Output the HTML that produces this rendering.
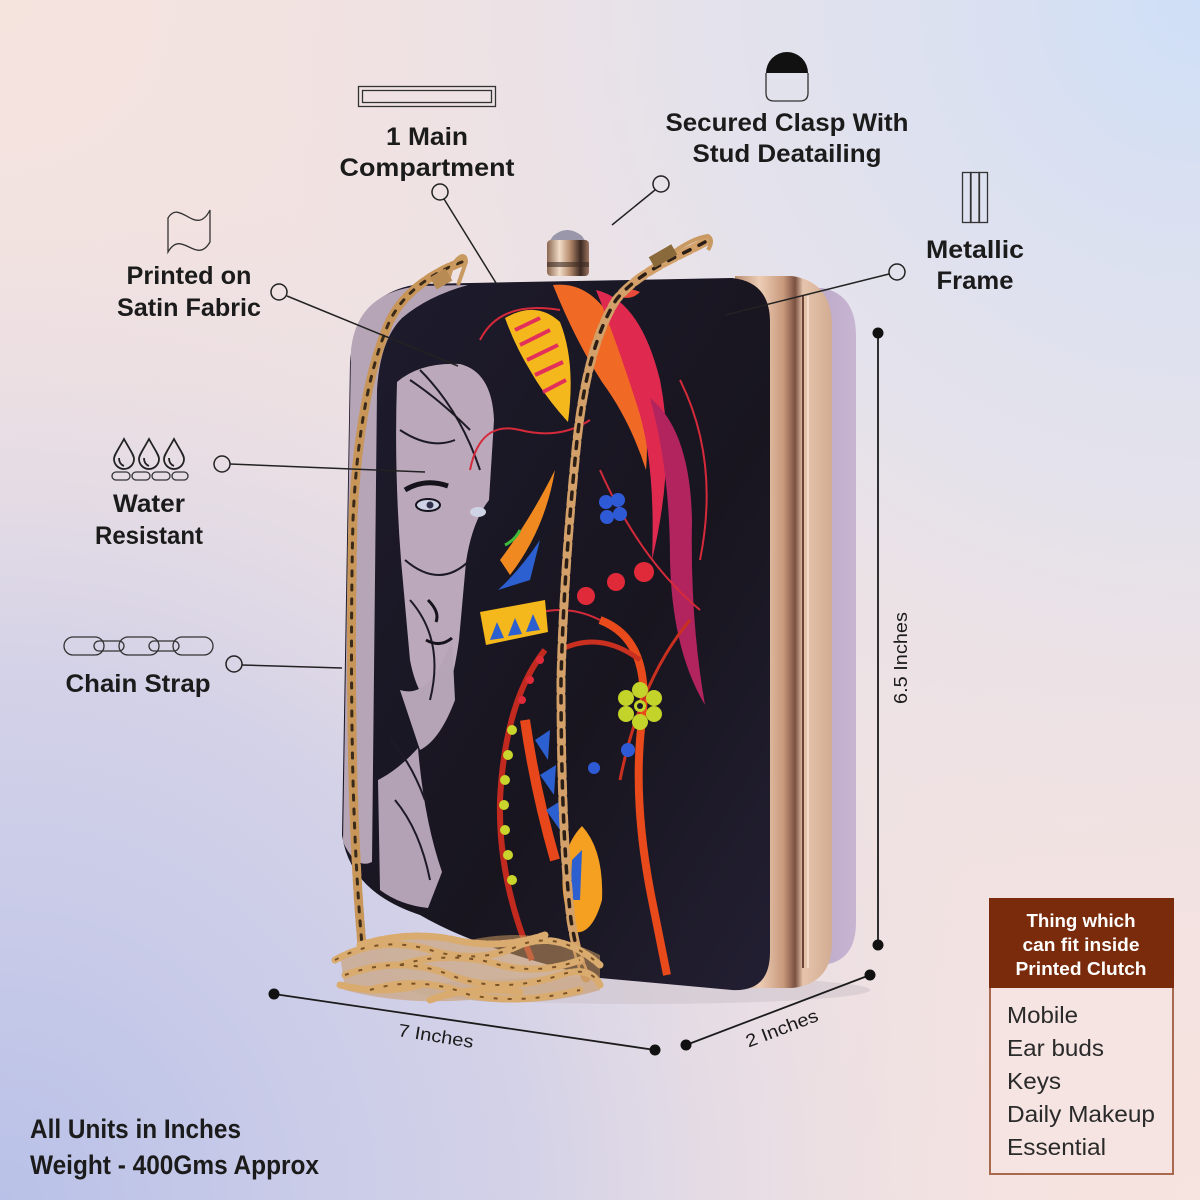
<!DOCTYPE html>
<html><head><meta charset="utf-8"><style>
html,body{margin:0;padding:0;width:1200px;height:1200px;overflow:hidden;background:#efe2e3}
svg{display:block}
.t{font-family:"Liberation Sans",sans-serif;font-weight:bold;fill:#1b1b1b;font-size:25px}
.d{font-family:"Liberation Sans",sans-serif;fill:#1b1b1b;font-size:18px}
</style></head><body>
<svg width="1200" height="1200" viewBox="0 0 1200 1200" xmlns="http://www.w3.org/2000/svg">
<defs>
<radialGradient id="tr" cx="1200" cy="0" r="950" gradientUnits="userSpaceOnUse">
<stop offset="0" stop-color="#cfdff7"/><stop offset="0.55" stop-color="#dfe2f0" stop-opacity="0.6"/><stop offset="1" stop-color="#efe2e3" stop-opacity="0"/></radialGradient>
<radialGradient id="bl" cx="0" cy="1200" r="1050" gradientUnits="userSpaceOnUse">
<stop offset="0" stop-color="#b9c1e8"/><stop offset="0.5" stop-color="#cacce9" stop-opacity="0.75"/><stop offset="1" stop-color="#efe2e3" stop-opacity="0"/></radialGradient>
<radialGradient id="tl" cx="0" cy="0" r="600" gradientUnits="userSpaceOnUse">
<stop offset="0" stop-color="#f5e3de"/><stop offset="1" stop-color="#f5e3de" stop-opacity="0"/></radialGradient>
<radialGradient id="br" cx="1200" cy="1200" r="600" gradientUnits="userSpaceOnUse">
<stop offset="0" stop-color="#f7e3df"/><stop offset="1" stop-color="#f7e3df" stop-opacity="0"/></radialGradient>
<linearGradient id="gold" x1="0" x2="1" y1="0" y2="0">
<stop offset="0" stop-color="#b98d70"/><stop offset="0.25" stop-color="#edcdb6"/><stop offset="0.5" stop-color="#c99a7c"/><stop offset="0.62" stop-color="#7a5040"/><stop offset="0.7" stop-color="#e6c4ac"/><stop offset="1" stop-color="#d2ac92"/></linearGradient>
<linearGradient id="side" x1="0" x2="1">
<stop offset="0" stop-color="#b19fc2"/><stop offset="1" stop-color="#c7b5d2"/></linearGradient>
<linearGradient id="face" x1="0" y1="0" x2="1" y2="1">
<stop offset="0" stop-color="#1e1b2e"/><stop offset="0.6" stop-color="#18151f"/><stop offset="1" stop-color="#231f33"/></linearGradient>
<linearGradient id="cyl" x1="0" x2="1">
<stop offset="0" stop-color="#8a6650"/><stop offset="0.3" stop-color="#f1dcc8"/><stop offset="0.55" stop-color="#b58a6c"/><stop offset="0.8" stop-color="#3d2a22"/><stop offset="1" stop-color="#9c7560"/></linearGradient>
</defs>

<rect width="1200" height="1200" fill="#efe2e3"/>
<rect width="1200" height="1200" fill="url(#tl)"/>
<rect width="1200" height="1200" fill="url(#br)"/>
<rect width="1200" height="1200" fill="url(#tr)"/>
<rect width="1200" height="1200" fill="url(#bl)"/>

<ellipse cx="640" cy="990" rx="230" ry="14" fill="#c9c0c8" opacity="0.5"/>

<path d="M780,288 L822,288 Q856,294 856,336 L856,922 Q856,962 822,965 L780,965 Z" fill="url(#side)"/>
<path d="M735,276 L792,276 Q832,282 832,326 L832,942 Q832,984 792,988 L735,988 Z" fill="url(#gold)"/>
<line x1="803" y1="296" x2="803" y2="968" stroke="#6b4434" stroke-width="2"/>
<line x1="808" y1="296" x2="808" y2="968" stroke="#f4dccb" stroke-width="2"/>

<path d="M420,284 L732,278 Q770,282 770,322 L770,952 Q770,992 732,990 L600,978 Q480,950 420,915 Q350,892 342,835 L350,362 Q356,292 420,284 Z" fill="url(#face)"/>

<path d="M351,350 Q357,292 420,286 L468,285 Q428,296 402,318 Q380,340 377,390 L372,862 Q356,870 343,842 Z" fill="#b6a4b7"/>
<path d="M397,382 Q420,362 460,364 Q492,372 494,420 L489,500 Q472,522 466,562 L459,640 Q452,690 440,712 Q418,702 410,660 L401,560 Q394,470 397,382 Z" fill="#bba9bb"/>
<path d="M378,780 Q398,770 418,748 Q424,820 442,872 L428,908 Q400,905 380,890 Z" fill="#b3a1b5"/>
<path d="M400,690 Q430,700 452,640 L455,700 Q440,740 420,750 Z" fill="#b5a3b6"/>
<g fill="none" stroke="#1d1a26" stroke-width="2">
<path d="M410,380 Q440,400 470,430"/>
<path d="M420,370 Q460,410 480,470"/>
<path d="M400,430 Q430,450 455,440"/>
<path d="M405,560 Q440,590 470,560"/>
<path d="M410,600 Q445,640 430,700"/>
<path d="M395,800 Q420,830 430,880"/>
<path d="M390,740 Q410,760 425,800"/>
</g>
<path d="M405,490 Q425,478 448,486" stroke="#16131c" stroke-width="5" fill="none"/>
<ellipse cx="428" cy="505" rx="12" ry="6" fill="#cfd3e6" stroke="#16131c" stroke-width="2"/>
<circle cx="430" cy="505" r="3.5" fill="#30304a"/>
<ellipse cx="478" cy="512" rx="8" ry="5" fill="#cfd3e6"/>
<path d="M428,600 Q440,612 436,622" stroke="#16131c" stroke-width="3" fill="none"/>
<path d="M426,640 Q440,648 452,638" stroke="#16131c" stroke-width="3" fill="none"/>

<path d="M553,285 Q595,280 620,335 Q652,405 646,470 Q630,420 602,382 Q575,340 553,285 Z" fill="#f06a25"/>
<path d="M596,290 Q640,300 660,380 Q676,460 652,560 Q656,460 636,402 Q616,340 596,290 Z" fill="#e0294f"/>
<path d="M505,318 Q536,300 560,322 Q576,362 568,422 Q546,398 531,372 Q515,346 505,318 Z" fill="#f5b81c"/>
<g stroke="#e2305a" stroke-width="4">
<line x1="515" y1="330" x2="540" y2="318"/><line x1="520" y1="345" x2="550" y2="330"/><line x1="527" y1="360" x2="558" y2="345"/><line x1="535" y1="375" x2="563" y2="362"/><line x1="543" y1="392" x2="566" y2="380"/>
</g>
<path d="M650,398 Q690,430 692,520 Q690,620 705,705 Q672,650 670,560 Q670,470 650,398 Z" fill="#b2245e"/>
<path d="M615,295 Q625,285 640,292 Q630,302 615,295 Z" fill="#e94a3a"/>
<g fill="none" stroke="#d42a3a" stroke-width="2">
<path d="M480,340 Q500,300 560,310"/>
<path d="M470,470 Q480,420 520,430 Q560,440 590,420"/>
<path d="M600,470 Q640,560 700,610"/>
<path d="M680,380 Q720,460 700,560"/>
<path d="M600,620 Q560,600 520,620"/>
</g>
<path d="M600,620 Q652,640 642,720 Q632,800 652,900 Q662,950 667,975" fill="none" stroke="#e84a1c" stroke-width="8"/>
<path d="M560,650 Q600,630 640,660" fill="none" stroke="#c93020" stroke-width="5"/>
<path d="M545,650 Q505,700 500,800 Q498,880 532,960" fill="none" stroke="#c22a20" stroke-width="6"/>
<path d="M690,620 Q640,680 620,780" fill="none" stroke="#c93020" stroke-width="3"/>
<path d="M480,612 L545,600 L548,632 L486,645 Z" fill="#f5b81c"/>
<g fill="#2c5fd0"><path d="M490,640 L497,622 L504,638 Z"/><path d="M508,636 L515,618 L522,634 Z"/><path d="M526,632 L533,614 L540,630 Z"/></g>
<path d="M500,560 Q530,520 555,470 Q545,530 510,575 Z" fill="#f08a20"/>
<path d="M498,590 Q520,570 540,540 L530,580 Z" fill="#2c5fd0"/>
<path d="M505,545 Q515,540 520,530" stroke="#3dbb3d" stroke-width="3"/>
<g fill="#e02a3a"><circle cx="586" cy="596" r="9"/><circle cx="616" cy="582" r="9"/><circle cx="644" cy="572" r="10"/><circle cx="540" cy="660" r="4"/><circle cx="530" cy="680" r="4"/><circle cx="522" cy="700" r="4"/></g>
<g fill="#c9d52c"><circle cx="512" cy="730" r="5"/><circle cx="508" cy="755" r="5"/><circle cx="505" cy="780" r="5"/><circle cx="504" cy="805" r="5"/><circle cx="505" cy="830" r="5"/><circle cx="508" cy="855" r="5"/><circle cx="512" cy="880" r="5"/></g>
<path d="M525,720 Q535,790 555,860" fill="none" stroke="#e8471c" stroke-width="10"/>
<g fill="#2c5fd0"><path d="M535,740 L550,730 L548,760 Z"/><path d="M540,775 L556,765 L554,795 Z"/><path d="M546,810 L562,800 L560,830 Z"/></g>
<path d="M582,826 Q604,850 602,900 Q592,935 575,932 Q558,900 564,860 Q570,838 582,826 Z" fill="#f5a020"/>
<path d="M572,860 L582,850 L580,900 L570,900 Z" fill="#2c5fd0"/>
<g fill="#2f5ad6"><circle cx="606" cy="502" r="7"/><circle cx="618" cy="500" r="7"/><circle cx="620" cy="514" r="7"/><circle cx="607" cy="517" r="7"/></g>
<g fill="#c3d32a"><circle cx="640" cy="690" r="8"/><circle cx="654" cy="698" r="8"/><circle cx="654" cy="714" r="8"/><circle cx="640" cy="722" r="8"/><circle cx="626" cy="714" r="8"/><circle cx="626" cy="698" r="8"/><circle cx="640" cy="706" r="6"/></g>
<circle cx="640" cy="706" r="3" fill="#1b1828"/>
<circle cx="628" cy="750" r="7" fill="#2f5ad6"/><circle cx="594" cy="768" r="6" fill="#2f5ad6"/>

<!-- clasp -->
<path d="M553,236 Q567,224 582,236 L586,242 L549,242 Z" fill="#9b97ab"/>
<rect x="547" y="240" width="42" height="36" rx="4" fill="url(#cyl)"/>
<rect x="547" y="262" width="42" height="5" fill="#3b2a22" opacity="0.6"/>

<!-- chains -->
<g fill="none" stroke-linecap="round">
<path d="M462,262 C440,270 400,290 386,330 C366,380 356,450 353,520 C351,600 351,700 353,780 C355,850 358,900 362,945" stroke="#c89658" stroke-width="9" stroke-dasharray="11 3"/>
<path d="M462,262 C440,270 400,290 386,330 C366,380 356,450 353,520 C351,600 351,700 353,780 C355,850 358,900 362,945" stroke="#3a2a1a" stroke-width="3" stroke-dasharray="5 9"/>
<path d="M705,242 C680,256 640,270 616,300 C591,340 581,400 576,450 C569,520 563,600 561,680 C561,760 563,850 571,920 C576,950 581,965 586,978" stroke="#d2a068" stroke-width="9" stroke-dasharray="13 4"/>
<path d="M705,242 C680,256 640,270 616,300 C591,340 581,400 576,450 C569,520 563,600 561,680 C561,760 563,850 571,920 C576,950 581,965 586,978" stroke="#2a1e16" stroke-width="3.5" stroke-dasharray="7 10"/>
</g>
<path d="M448,282 Q452,260 462,256 Q466,256 466,262 L458,285" fill="none" stroke="#c89a62" stroke-width="4"/>
<rect x="432" y="272" width="18" height="14" fill="#b88a54" transform="rotate(-30 441 279)"/>
<path d="M660,262 Q690,238 708,236 Q714,240 708,250" fill="none" stroke="#c89a62" stroke-width="4"/>
<rect x="650" y="250" width="26" height="12" fill="#8a6a3a" transform="rotate(-30 663 256)"/>

<!-- chain pile -->
<path d="M340,955 Q400,925 470,940 Q540,925 600,955 L600,990 Q540,1008 470,1000 Q400,1005 345,990 Z" fill="#c9985e" opacity="0.55"/>
<g fill="none" stroke="#d9ab6e" stroke-width="7" stroke-dasharray="10 3" stroke-linecap="round">
<path d="M335,960 Q380,935 430,950 Q480,965 520,945 Q560,930 600,965"/>
<path d="M345,975 Q400,955 450,975 Q500,995 560,975 Q590,965 600,985"/>
<path d="M370,990 Q420,975 470,995 Q520,1005 580,990"/>
<path d="M360,945 Q410,930 455,940 Q500,950 545,935"/>
<path d="M340,985 Q380,995 420,985"/>
<path d="M400,965 Q450,950 500,965 Q540,975 580,960"/>
<path d="M430,1000 Q470,985 520,992"/>
</g>
<g fill="none" stroke="#7a5228" stroke-width="2" stroke-dasharray="4 10">
<path d="M335,960 Q380,935 430,950 Q480,965 520,945 Q560,930 600,965"/>
<path d="M345,975 Q400,955 450,975 Q500,995 560,975 Q590,965 600,985"/>
<path d="M370,990 Q420,975 470,995 Q520,1005 580,990"/>
<path d="M400,965 Q450,950 500,965 Q540,975 580,960"/>
</g>

<!-- callouts -->
<g stroke="#222" stroke-width="1.5" fill="none">
<circle cx="440" cy="192" r="8"/><line x1="444" y1="199" x2="496" y2="283"/>
<circle cx="661" cy="184" r="8"/><line x1="655" y1="190" x2="612" y2="225"/>
<circle cx="897" cy="272" r="8"/><line x1="889" y1="274" x2="725" y2="315"/>
<circle cx="279" cy="292" r="8"/><line x1="287" y1="296" x2="458" y2="366"/>
<circle cx="222" cy="464" r="8"/><line x1="230" y1="464" x2="425" y2="472"/>
<circle cx="234" cy="664" r="8"/><line x1="242" y1="665" x2="342" y2="668"/>
</g>

<g stroke="#1b1b1b" stroke-width="1.8">
<line x1="878" y1="333" x2="878" y2="945"/>
<line x1="274" y1="994" x2="655" y2="1050"/>
<line x1="686" y1="1045" x2="870" y2="975"/>
</g>
<g fill="#111"><circle cx="878" cy="333" r="5.5"/><circle cx="878" cy="945" r="5.5"/><circle cx="274" cy="994" r="5.5"/><circle cx="655" cy="1050" r="5.5"/><circle cx="686" cy="1045" r="5.5"/><circle cx="870" cy="975" r="5.5"/></g>
<text class="d" transform="translate(907,658) rotate(-90)" text-anchor="middle" textLength="92" lengthAdjust="spacingAndGlyphs">6.5 Inches</text>
<text class="d" transform="translate(435,1042) rotate(9)" text-anchor="middle" textLength="76" lengthAdjust="spacingAndGlyphs">7 Inches</text>
<text class="d" transform="translate(784,1034) rotate(-21)" text-anchor="middle" textLength="76" lengthAdjust="spacingAndGlyphs">2 Inches</text>

<!-- icons -->
<g stroke="#333" stroke-width="1.3" fill="none">
<rect x="358.5" y="86.5" width="137" height="20"/>
<rect x="362.5" y="90.5" width="129" height="12"/>
<path d="M766,73 L766,93 Q766,101 774,101 L800,101 Q808,101 808,93 L808,73"/>
<rect x="962.5" y="172.5" width="8" height="50"/><rect x="971" y="172.5" width="8" height="50"/><rect x="979.5" y="172.5" width="8" height="50"/>
<path d="M168,218 C180,198 196,238 210,210 L210,242 C196,266 182,228 168,252 Z"/>
<rect x="64" y="637" width="40" height="18" rx="9"/><rect x="119" y="637" width="40" height="18" rx="9"/><rect x="173" y="637" width="40" height="18" rx="9"/>
<rect x="94" y="641" width="30" height="10" rx="5"/><rect x="149" y="641" width="30" height="10" rx="5"/>
<rect x="112" y="472" width="18" height="8" rx="4"/><rect x="132" y="472" width="18" height="8" rx="4"/><rect x="152" y="472" width="18" height="8" rx="4"/><rect x="172" y="472" width="16" height="8" rx="4"/>
</g>
<path d="M766,73 A21,21 0 0 1 808,73 Z" fill="#111"/>
<g stroke="#222" stroke-width="1.8" fill="none">
<path d="M124,439 C118,450 114,455 114,459 A10,10 0 0 0 134,459 C134,455 130,450 124,439 Z"/>
<path d="M149,439 C143,450 139,455 139,459 A10,10 0 0 0 159,459 C159,455 155,450 149,439 Z"/>
<path d="M174,439 C168,450 164,455 164,459 A10,10 0 0 0 184,459 C184,455 180,450 174,439 Z"/>
<path d="M119,458 Q119,464 124,466"/><path d="M144,458 Q144,464 149,466"/><path d="M169,458 Q169,464 174,466"/>
</g>

<!-- labels -->
<g lengthAdjust="spacingAndGlyphs">
<text class="t" x="427" y="145" text-anchor="middle" textLength="82" lengthAdjust="spacingAndGlyphs">1 Main</text>
<text class="t" x="427" y="176" text-anchor="middle" textLength="175" lengthAdjust="spacingAndGlyphs">Compartment</text>
<text class="t" x="787" y="131" text-anchor="middle" textLength="243" lengthAdjust="spacingAndGlyphs">Secured Clasp With</text>
<text class="t" x="787" y="162" text-anchor="middle" textLength="189" lengthAdjust="spacingAndGlyphs">Stud Deatailing</text>
<text class="t" x="975" y="258" text-anchor="middle" textLength="98" lengthAdjust="spacingAndGlyphs">Metallic</text>
<text class="t" x="975" y="289" text-anchor="middle" textLength="77" lengthAdjust="spacingAndGlyphs">Frame</text>
<text class="t" x="189" y="284" text-anchor="middle" textLength="125" lengthAdjust="spacingAndGlyphs">Printed on</text>
<text class="t" x="189" y="316" text-anchor="middle" textLength="144" lengthAdjust="spacingAndGlyphs">Satin Fabric</text>
<text class="t" x="149" y="512" text-anchor="middle" textLength="72" lengthAdjust="spacingAndGlyphs">Water</text>
<text class="t" x="149" y="544" text-anchor="middle" textLength="108" lengthAdjust="spacingAndGlyphs">Resistant</text>
<text class="t" x="138" y="692" text-anchor="middle" textLength="145" lengthAdjust="spacingAndGlyphs">Chain Strap</text>
</g>

<text class="t" x="30" y="1138" textLength="211" lengthAdjust="spacingAndGlyphs" style="font-size:27px">All Units in Inches</text>
<text class="t" x="30" y="1174" textLength="289" lengthAdjust="spacingAndGlyphs" style="font-size:27px">Weight - 400Gms Approx</text>

<!-- box -->
<rect x="990" y="899" width="183" height="275" fill="#f5e4e2" stroke="#a8694f" stroke-width="2"/>
<rect x="989" y="898" width="185" height="90" fill="#7a2b0c"/>
<g font-family="Liberation Sans, sans-serif" font-weight="bold" font-size="18" fill="#fff" text-anchor="middle">
<text x="1081" y="927" textLength="109" lengthAdjust="spacingAndGlyphs">Thing which</text>
<text x="1081" y="951" textLength="117" lengthAdjust="spacingAndGlyphs">can fit inside</text>
<text x="1081" y="975" textLength="131" lengthAdjust="spacingAndGlyphs">Printed Clutch</text>
</g>
<g font-family="Liberation Sans, sans-serif" font-size="23" fill="#2a2a2a">
<text x="1007" y="1023" textLength="71" lengthAdjust="spacingAndGlyphs">Mobile</text>
<text x="1007" y="1056" textLength="97" lengthAdjust="spacingAndGlyphs">Ear buds</text>
<text x="1007" y="1089" textLength="54" lengthAdjust="spacingAndGlyphs">Keys</text>
<text x="1007" y="1122" textLength="148" lengthAdjust="spacingAndGlyphs">Daily Makeup</text>
<text x="1007" y="1155" textLength="99" lengthAdjust="spacingAndGlyphs">Essential</text>
</g>
</svg>
</body></html>
